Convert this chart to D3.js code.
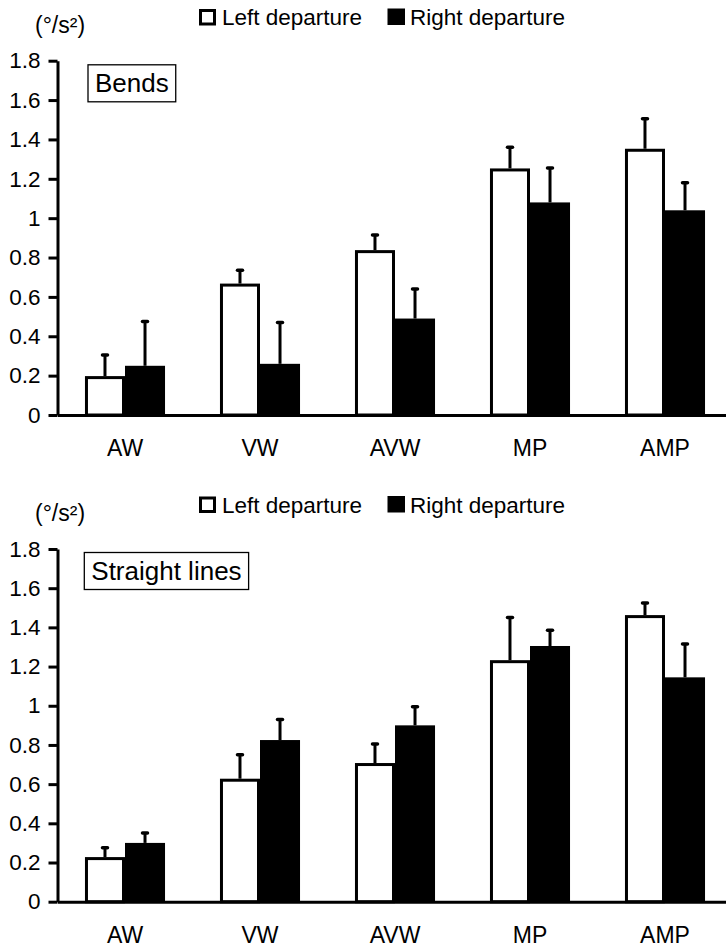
<!DOCTYPE html>
<html><head><meta charset="utf-8">
<script src="https://cdn.jsdelivr.net/npm/d3@7"></script>
<style>
body{margin:0;background:#fff}
svg text{font-family:"Liberation Sans",Arial,Helvetica,sans-serif;fill:#000}
</style>
</head><body>
<svg id="chart" width="726" height="949"></svg>
<script>
// ---- data ----
const categories = ["AW", "VW", "AVW", "MP", "AMP"];
const seriesNames = ["Left departure", "Right departure"];
const yTicks = [0, 0.2, 0.4, 0.6, 0.8, 1, 1.2, 1.4, 1.6, 1.8];
const yTickLabels = ["0", "0.2", "0.4", "0.6", "0.8", "1", "1.2", "1.4", "1.6", "1.8"];
const unitLabel = "(°/s²)";

const bendsLeft    = [0.19, 0.66, 0.83, 1.245, 1.345];
const bendsLeftSD  = [0.115, 0.075, 0.085, 0.115, 0.16];
const bendsRight   = [0.25, 0.26, 0.49, 1.08, 1.04];
const bendsRightSD = [0.225, 0.21, 0.15, 0.175, 0.14];

const straightLeft    = [0.22, 0.62, 0.70, 1.225, 1.455];
const straightLeftSD  = [0.055, 0.13, 0.105, 0.225, 0.07];
const straightRight   = [0.30, 0.825, 0.90, 1.305, 1.145];
const straightRightSD = [0.05, 0.105, 0.095, 0.08, 0.17];

// ---- layout ----
const panels = [
  {title: "Bends", left: bendsLeft, leftSD: bendsLeftSD, right: bendsRight, rightSD: bendsRightSD,
   y0: 415, y1: 60.7, legendBase: 25, unitBase: 33, boxX: 88, boxBase: 92.3},
  {title: "Straight lines", left: straightLeft, leftSD: straightLeftSD, right: straightRight, rightSD: straightRightSD,
   y0: 901.7, y1: 549, legendBase: 512.5, unitBase: 520.5, boxX: 84.3, boxBase: 580}
];

const svg = d3.select("#chart");
const axisX = 57.5;
const x = d3.scaleBand().domain(categories).range([axisX, axisX + 675]).paddingInner(0.407).paddingOuter(0.2035);
const xs = d3.scaleBand().domain(seriesNames).range([0, x.bandwidth()]);

panels.forEach(p => {
  const g = svg.append("g");
  const y = d3.scaleLinear().domain([0, 1.8]).range([p.y0, p.y1]);
  const rows = categories.map((c, i) => ({
    c,
    vals: [
      {s: seriesNames[0], v: p.left[i], sd: p.leftSD[i]},
      {s: seriesNames[1], v: p.right[i], sd: p.rightSD[i]}
    ]
  }));

  // bars
  const grp = g.selectAll("g.cat").data(rows).join("g").attr("class", "cat")
    .attr("transform", d => `translate(${x(d.c)},0)`);
  grp.selectAll("rect").data(d => d.vals).join("rect")
    .attr("x", d => d.s === seriesNames[0] ? xs(d.s) + 1.5 : xs(d.s))
    .attr("width", d => d.s === seriesNames[0] ? xs.bandwidth() - 3 : xs.bandwidth())
    .attr("y", d => y(d.v))
    .attr("height", d => y(0) - y(d.v))
    .attr("fill", d => d.s === seriesNames[0] ? "#fff" : "#000")
    .attr("stroke", d => d.s === seriesNames[0] ? "#000" : "none")
    .attr("stroke-width", 3);

  // error bars (upper only)
  grp.selectAll("line.err").data(d => d.vals).join("line").attr("class", "err")
    .attr("x1", d => xs(d.s) + xs.bandwidth() / 2)
    .attr("x2", d => xs(d.s) + xs.bandwidth() / 2)
    .attr("y1", d => y(d.v) - (d.s === seriesNames[0] ? 1.5 : 0))
    .attr("y2", d => y(d.v + d.sd))
    .attr("stroke", "#000").attr("stroke-width", 3);
  grp.selectAll("line.cap").data(d => d.vals).join("line").attr("class", "cap")
    .attr("x1", d => xs(d.s) + xs.bandwidth() / 2 - 2.5)
    .attr("x2", d => xs(d.s) + xs.bandwidth() / 2 + 2.5)
    .attr("y1", d => y(d.v + d.sd))
    .attr("y2", d => y(d.v + d.sd))
    .attr("stroke", "#000").attr("stroke-width", 3.5).attr("stroke-linecap", "round");

  // y axis
  const ya = g.append("g").attr("transform", `translate(${axisX},0)`)
    .call(d3.axisLeft(y).tickValues(yTicks).tickFormat((d, i) => yTickLabels[i]).tickSize(9).tickSizeOuter(0).tickPadding(8));
  ya.select(".domain").attr("stroke-width", 3);
  ya.selectAll(".tick line").attr("stroke-width", 3);
  ya.selectAll(".tick text").style("font-size", "22.5px");

  // x axis
  const xa = g.append("g").attr("transform", `translate(0,${p.y0})`)
    .call(d3.axisBottom(x).tickSize(0).tickSizeOuter(0));
  xa.select(".domain").attr("stroke-width", 3);
  xa.selectAll(".tick text").attr("y", 41).attr("dy", 0).style("font-size", "23px");

  // unit label
  g.append("text").attr("x", 35).attr("y", p.unitBase).style("font-size", "23px").text(unitLabel);

  // legend
  const legX = [199, 387.5];
  const legTX = [222, 410];
  seriesNames.forEach((s, i) => {
    if (i === 0) {
      g.append("rect").attr("x", legX[i] + 1.5).attr("y", p.legendBase - 16 + 1.5)
        .attr("width", 14).attr("height", 13.5).attr("fill", "#fff").attr("stroke", "#000").attr("stroke-width", 3);
    } else {
      g.append("rect").attr("x", legX[i]).attr("y", p.legendBase - 16.5)
        .attr("width", 17.5).attr("height", 16.5).attr("fill", "#000");
    }
    g.append("text").attr("x", legTX[i]).attr("y", p.legendBase).style("font-size", "22.5px").text(s);
  });

  // title box
  const box = g.append("rect");
  const t = g.append("text").attr("x", p.boxX + 7).attr("y", p.boxBase).style("font-size", "26px").text(p.title);
  const tw = t.node().getComputedTextLength();
  box.attr("x", p.boxX).attr("y", p.boxBase - 27.5)
    .attr("width", tw + 14).attr("height", 37).attr("fill", "#fff").attr("stroke", "#000").attr("stroke-width", 1.3);
});
</script>
</body></html>
